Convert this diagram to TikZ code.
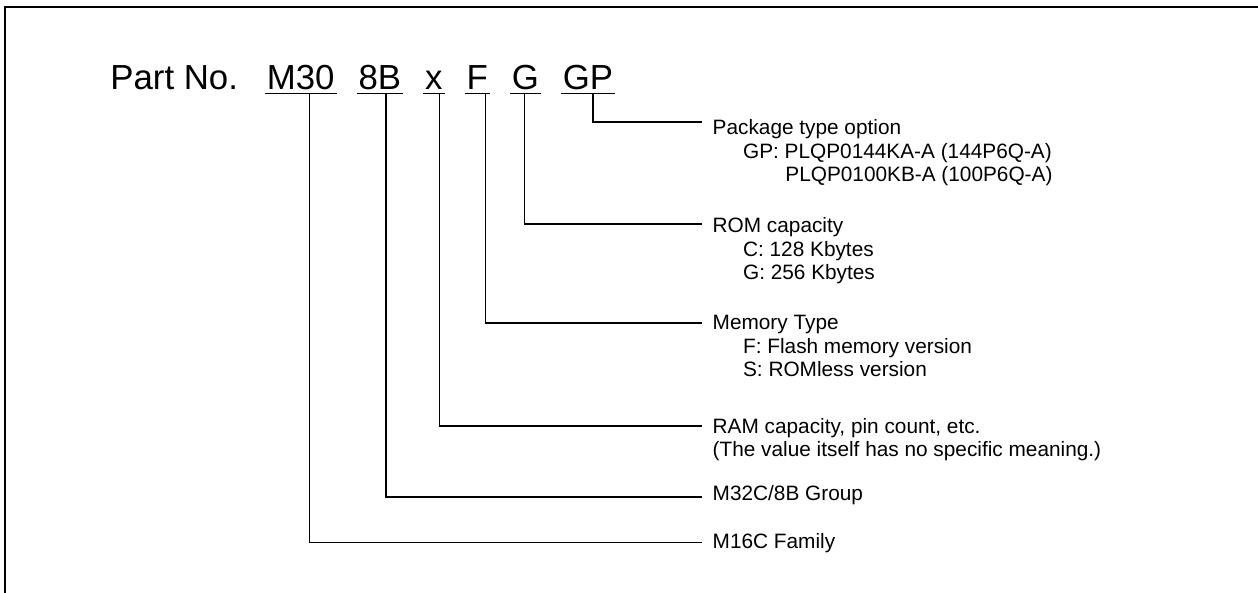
\documentclass[tikz,border=0pt]{standalone}
\usepackage{fontspec}
\setmainfont{Liberation Sans}
\usetikzlibrary{positioning,calc}

\tikzset{
  code/.style={font=\fontsize{17.4pt}{20pt}\selectfont,
               text height=12.4pt, text depth=0pt,
               inner xsep=0.8pt, inner ysep=1.65pt},
  desc/.style={font=\fontsize{10.4pt}{11.65pt}\selectfont,
               align=left, anchor=north west, inner sep=0pt},
  lead/.style={line width=0.7pt},
}
\newcommand{\subind}{\hspace*{15.2pt}}

\begin{document}
\begin{tikzpicture}[x=0.5pt,y=-0.5pt]
    \useasboundingbox (0,0) rectangle (1258,593);
    \draw[line width=1pt] (5,593) -- (5,7) -- (1258,7);

    \node[code, inner xsep=0pt, anchor=base west] (title) at (110,90) {Part No.};
    \node[code, right=13.2pt of title] (m30) {M30};
    \node[code, right=10pt of m30] (eightb) {8B};
    \node[code, right=10pt of eightb] (xx) {x};
    \node[code, right=10pt of xx] (ff) {F};
    \node[code, right=10pt of ff] (gg) {G};
    \node[code, right=10pt of gg] (gp) {GP};
    \foreach \p in {m30,eightb,xx,ff,gg,gp}
      \draw[lead] (\p.south west) -- (\p.south east);

    \coordinate (pkgend) at (702,122);
    \coordinate (romend) at (702,224);
    \coordinate (memend) at (702,323);
    \coordinate (ramend) at (702,426);
    \coordinate (grpend) at (702,497);
    \coordinate (famend) at (702,542.5);

    \node[desc] (pkg) at (712.3,119.3) {Package type option\\
      \subind GP: PLQP0144KA-A (144P6Q-A)\\
      \hspace*{36.35pt}PLQP0100KB-A (100P6Q-A)};
    \node[desc] (rom) at (712.3,217.4) {ROM capacity\\
      \subind C: 128 Kbytes\\
      \subind G: 256 Kbytes};
    \node[desc] (mem) at (712.3,315) {Memory Type\\
      \subind F: Flash memory version\\
      \subind S: ROMless version};
    \node[desc] (ram) at (712.3,417.7) {RAM capacity, pin count, etc.\\
      (The value itself has no specific meaning.)};
    \node[desc] (grp) at (712.3,485) {M32C/8B Group};
    \node[desc] (fam) at (712.3,533) {M16C Family};

    \draw[lead] ($(gp.south)+(5,0)$) |- (pkgend);
    \draw[lead] ($(gg.south)+(-1,0)$) |- (romend);
    \draw[lead] ($(ff.south)+(8.5,0)$) |- (memend);
    \draw[lead] ($(xx.south)+(5.4,0)$) |- (ramend);
    \draw[lead] ($(eightb.south)+(6,0)$) |- (grpend);
    \draw[lead] ($(m30.south)+(9,0)$) |- (famend);
\end{tikzpicture}
\end{document}
